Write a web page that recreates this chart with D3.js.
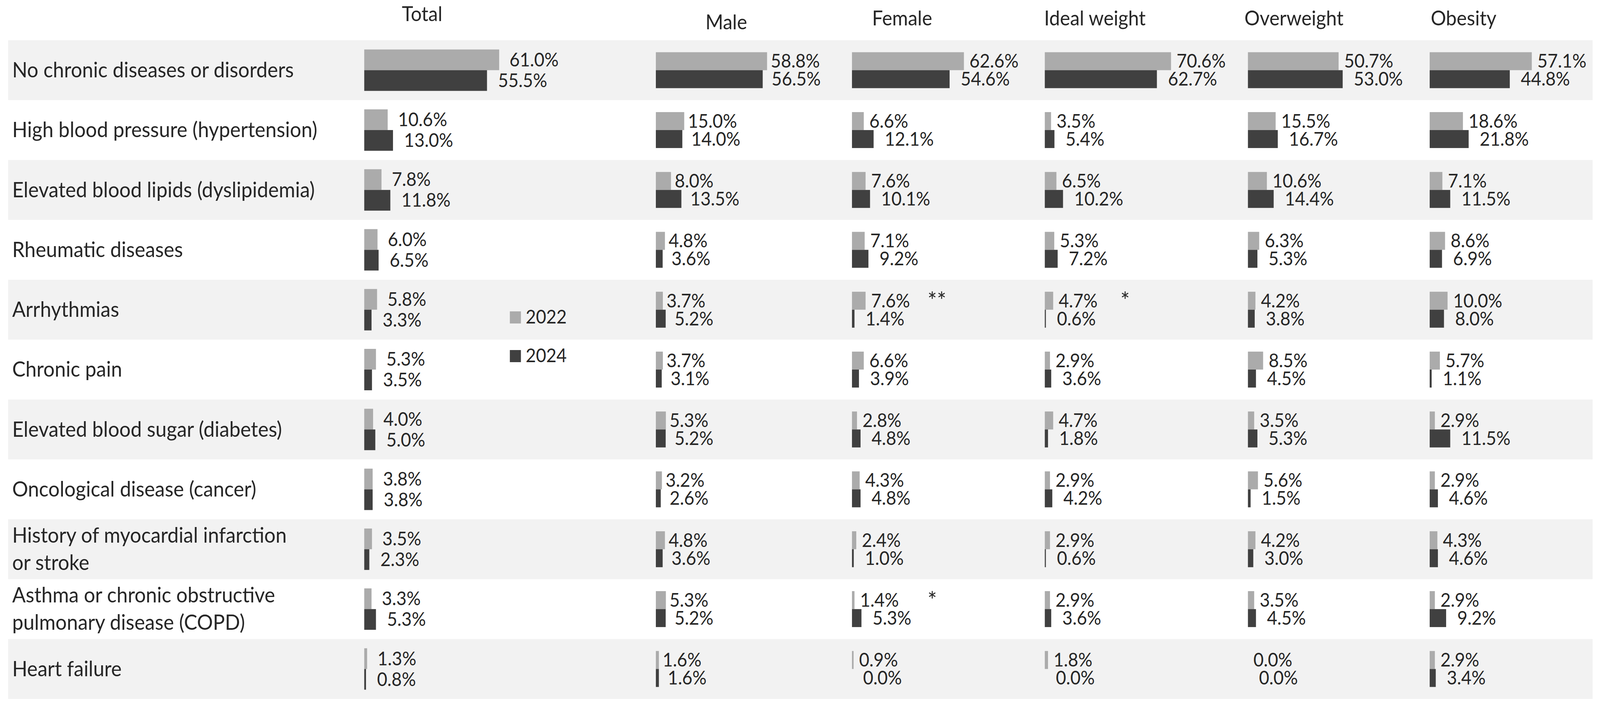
<!DOCTYPE html>
<html>
<head>
<meta charset="utf-8">
<script src="https://cdn.jsdelivr.net/npm/d3@7"></script>
<style>
    html, body { margin: 0; padding: 0; width: 100%; height: 100%; overflow: hidden; background: #fff; }
    #chart { display: block; width: 100vw; height: 100vh; }
    text { font-family: Lato, "Open Sans", sans-serif; fill: #262626; }
</style>
</head>
<body>
<svg id="chart" viewBox="0 0 4340 1802" preserveAspectRatio="none"></svg>
<script>
// Conditions (rows), "\n" marks a line break in the label
const categories = [
    'No chronic diseases or disorders',
    'High blood pressure (hypertension)',
    'Elevated blood lipids (dyslipidemia)',
    'Rheumatic diseases',
    'Arrhythmias',
    'Chronic pain',
    'Elevated blood sugar (diabetes)',
    'Oncological disease (cancer)',
    'History of myocardial infarction\nor stroke',
    'Asthma or chronic obstructive\npulmonary disease (COPD)',
    'Heart failure'
];

// Column groups
const groups = ['Total', 'Male', 'Female', 'Ideal weight', 'Overweight', 'Obesity'];
const years = ['2022', '2024'];

// Share (%) per group, one value per category
const values2022 = {
    'Total':        [61.0, 10.6, 7.8, 6.0, 5.8, 5.3, 4.0, 3.8, 3.5, 3.3, 1.3],
    'Male':         [58.8, 15.0, 8.0, 4.8, 3.7, 3.7, 5.3, 3.2, 4.8, 5.3, 1.6],
    'Female':       [62.6, 6.6, 7.6, 7.1, 7.6, 6.6, 2.8, 4.3, 2.4, 1.4, 0.9],
    'Ideal weight': [70.6, 3.5, 6.5, 5.3, 4.7, 2.9, 4.7, 2.9, 2.9, 2.9, 1.8],
    'Overweight':   [50.7, 15.5, 10.6, 6.3, 4.2, 8.5, 3.5, 5.6, 4.2, 3.5, 0.0],
    'Obesity':      [57.1, 18.6, 7.1, 8.6, 10.0, 5.7, 2.9, 2.9, 4.3, 2.9, 2.9]
};
const values2024 = {
    'Total':        [55.5, 13.0, 11.8, 6.5, 3.3, 3.5, 5.0, 3.8, 2.3, 5.3, 0.8],
    'Male':         [56.5, 14.0, 13.5, 3.6, 5.2, 3.1, 5.2, 2.6, 3.6, 5.2, 1.6],
    'Female':       [54.6, 12.1, 10.1, 9.2, 1.4, 3.9, 4.8, 4.8, 1.0, 5.3, 0.0],
    'Ideal weight': [62.7, 5.4, 10.2, 7.2, 0.6, 3.6, 1.8, 4.2, 0.6, 3.6, 0.0],
    'Overweight':   [53.0, 16.7, 14.4, 5.3, 3.8, 4.5, 5.3, 1.5, 3.0, 4.5, 0.0],
    'Obesity':      [44.8, 21.8, 11.5, 6.9, 8.0, 1.1, 11.5, 4.6, 4.6, 9.2, 3.4]
};

// Significance marks
const marks = [
    ['Female', 'Arrhythmias', '**'],
    ['Ideal weight', 'Arrhythmias', '*'],
    ['Female', 'Asthma or chronic obstructive\npulmonary disease (COPD)', '*']
];

// Layout of each panel: bar origin, pixels for 100 %, header anchor
const panelLayout = {
    'Total':        { x0: 988,  w: 600, hx: 1145, hy: 54, barH: 53, gap: [28, 30] },
    'Male':         { x0: 1779, w: 513, hx: 1970, hy: 75, barH: 46, gap: [10, 24] },
    'Female':       { x0: 2311, w: 485, hx: 2447, hy: 65, barH: 46, gap: [15, 30] },
    'Ideal weight': { x0: 2834, w: 485, hx: 2970, hy: 65, barH: 46, gap: [15, 30] },
    'Overweight':   { x0: 3385, w: 485, hx: 3510, hy: 65, barH: 46, gap: [15, 30] },
    'Obesity':      { x0: 3878, w: 485, hx: 3970, hy: 65, barH: 46, gap: [15, 30] }
};

const colors = { '2022': '#ababab', '2024': '#404040' };
const labelSize = 54;
const valueSize = 48;

const fmt = d => `${d.toFixed(1)}%`;

function drawChart() {
    const svg = d3.select('#chart');

    // One band per condition
    const yScale = d3.scaleBand()
        .domain(categories)
        .range([103, 1789]);

    // Striped row backgrounds
    svg.selectAll('.stripe')
        .data(categories.filter((_, i) => i % 2 === 0))
        .enter()
        .append('rect')
        .attr('class', 'stripe')
        .attr('x', 22)
        .attr('y', d => yScale(d))
        .attr('width', 4320 - 22)
        .attr('height', yScale.bandwidth())
        .style('fill', '#f2f2f2');

    // Row labels, split on line breaks
    const lineStep = 70;
    svg.selectAll('.row-label')
        .data(categories)
        .enter()
        .append('text')
        .attr('class', 'row-label')
        .style('font-size', `${labelSize}px`)
        .each(function(d) {
            const lines = d.split('\n');
            const mid = yScale(d) + yScale.bandwidth() / 2 + labelSize * 0.34;
            const first = mid - (lines.length - 1) * lineStep / 2;
            for (let i = 0; i < lines.length; i++) {
                d3.select(this).append('tspan')
                    .attr('x', 33)
                    .attr('y', first + i * lineStep)
                    .text(lines[i]);
            }
        });

    for (let group of groups) {
        const lay = panelLayout[group];
        const xScale = d3.scaleLinear()
            .domain([0, 100])
            .range([lay.x0, lay.x0 + lay.w]);
        // Two bars stacked inside each row band
        const yearScale = d3.scaleBand()
            .domain(years)
            .range([-lay.barH, lay.barH]);

        const g = svg.append('g').attr('class', 'panel');

        // Column header
        g.append('text')
            .attr('x', lay.hx)
            .attr('y', lay.hy)
            .attr('text-anchor', 'middle')
            .style('font-size', `${labelSize - 2}px`)
            .text(group);

        const rows = [];
        categories.forEach((cat, i) => {
            rows.push({ cat: cat, year: '2022', value: values2022[group][i] });
            rows.push({ cat: cat, year: '2024', value: values2024[group][i] });
        });
        const center = d => yScale(d.cat) + yScale.bandwidth() / 2;

        g.selectAll('.bar')
            .data(rows.filter(d => d.value > 0))
            .enter()
            .append('rect')
            .attr('class', 'bar')
            .attr('x', xScale(0))
            .attr('y', d => center(d) + yearScale(d.year))
            .attr('width', d => xScale(d.value) - xScale(0))
            .attr('height', yearScale.bandwidth())
            .style('fill', d => colors[d.year]);

        g.selectAll('.value-label')
            .data(rows)
            .enter()
            .append('text')
            .attr('class', 'value-label')
            .attr('x', d => xScale(d.value) + lay.gap[years.indexOf(d.year)])
            .attr('y', d => center(d) + yearScale(d.year) + yearScale.bandwidth() / 2 + valueSize * 0.35)
            .style('font-size', `${valueSize}px`)
            .text(d => fmt(d.value));

        // Significance asterisks next to the 2022 label
        g.selectAll('.mark')
            .data(marks.filter(m => m[0] === group))
            .enter()
            .append('text')
            .attr('class', 'mark')
            .attr('x', xScale(0) + 205)
            .attr('y', m => yScale(m[1]) + yScale.bandwidth() / 2 + yearScale('2022') + yearScale.bandwidth() / 2 + valueSize * 0.45)
            .style('font-size', '60px')
            .text(m => m[2]);
    }

    // Legend
    const legend = svg.append('g')
        .attr('class', 'legend')
        .attr('transform', 'translate(1383, 797)');
    const legendItems = legend.selectAll('.legend-item')
        .data(years)
        .enter()
        .append('g')
        .attr('transform', (d, i) => `translate(0, ${i * 99})`);
    legendItems.append('rect')
        .attr('width', 30)
        .attr('height', 31)
        .style('fill', d => colors[d]);
    legendItems.append('text')
        .attr('x', 43)
        .attr('y', 31)
        .style('font-size', `${valueSize}px`)
        .text(d => d);
}

drawChart();
</script>
</body>
</html>
